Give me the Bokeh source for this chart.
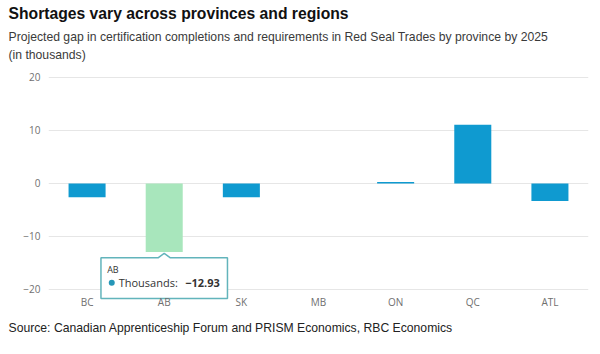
from bokeh.plotting import figure
from bokeh.models import Range1d, FixedTicker, Title
from bokeh.core.properties import value
from bokeh.embed import file_html
from bokeh.resources import INLINE

# ---- data ----
categories = ["BC", "AB", "SK", "MB", "ON", "QC", "ATL"]
gaps = [-2.6, -12.93, -2.6, 0.0, 0.3, 11.1, -3.3]
y_ticks = [-20, -10, 0, 10, 20]
highlight = "AB"
series_name = "Thousands"

title_text = "Shortages vary across provinces and regions"
subtitle_lines = [
    "Projected gap in certification completions and requirements in Red Seal Trades by province by 2025",
    "(in thousands)",
]
source_text = "Source: Canadian Apprenticeship Forum and PRISM Economics, RBC Economics"

# ---- styles ----
BLUE = "#0f9ad0"
GREEN = "#a8e6bc"
TIP_BORDER = "#62b4bb"
TICK_FONT = "Open Sans"
TEXT_FONT = "Liberation Sans"

idx = list(range(len(categories)))
colors = [GREEN if c == highlight else BLUE for c in categories]

p = figure(width=600, height=354, output_backend="svg", toolbar_location=None,
           x_range=Range1d(-0.5, len(categories) - 0.5),
           y_range=Range1d(-22.08, 21.32),
           min_border_left=48, min_border_right=12,
           min_border_top=10, min_border_bottom=54)
p.outline_line_color = None
p.background_fill_color = "white"

p.vbar(x=idx, top=gaps, bottom=0, width=0.48, fill_color=colors, line_color=None)

# axes
p.yaxis.ticker = FixedTicker(ticks=y_ticks)
p.xaxis.ticker = FixedTicker(ticks=idx)
p.xaxis.major_label_overrides = {i: c for i, c in zip(idx, categories)}
for ax in (p.xaxis, p.yaxis):
    ax.axis_line_color = None
    ax.major_tick_line_color = None
    ax.minor_tick_line_color = None
    ax.major_tick_out = 0
    ax.major_tick_in = 0
    ax.major_label_text_font = TICK_FONT
    ax.major_label_text_font_size = "10px"
    ax.major_label_text_color = "#707070"
p.yaxis.major_label_standoff = 8
p.xaxis.major_label_standoff = -6
p.xgrid.grid_line_color = None
p.ygrid.ticker = FixedTicker(ticks=y_ticks)
p.ygrid.grid_line_color = "#e6e6e6"

# tooltip-like callout for the highlighted bar
hi = categories.index(highlight)
hv = gaps[hi]
left, right = hi - 0.82, hi + 0.82
top = hv - 1.1
bottom = -21.7
tip = hv - 0.25
pw = 0.08
p.patch(x=[left, hi - pw, hi, hi + pw, right, right, left],
        y=[top, top, tip, top, top, bottom, bottom],
        fill_color="white", line_color=TIP_BORDER, line_width=1.5)
p.text(x=[left + 0.08], y=[top - 2.26], text=[highlight],
       text_font=value(TICK_FONT), text_font_size="9px", text_color="#333333",
       text_align="left", text_baseline="middle")
p.scatter(x=[left + 0.14], y=[top - 4.7], size=6, marker="circle",
          fill_color="#2596b8", line_color=None)
p.text(x=[left + 0.23], y=[top - 4.7], text=[series_name + ":"],
       text_font=value(TICK_FONT), text_font_size="11px", text_color="#333333",
       text_align="left", text_baseline="middle")
p.text(x=[right - 0.1], y=[top - 4.7], text=[f"{hv:.2f}".replace("-", "\u2212")],
       text_font=value(TICK_FONT), text_font_size="11px", text_color="#333333",
       text_font_style="bold", text_align="right", text_baseline="middle")

# titles (later-added titles go further from the plot)
p.add_layout(Title(text="\n".join(subtitle_lines), align="left", offset=-40,
                   vertical_align="top",
                   text_font=TEXT_FONT, text_font_size="12.2px", text_line_height=1.3,
                   text_color="#3a3a3a", text_font_style="normal", standoff=13), "above")
p.add_layout(Title(text=title_text, align="left", offset=-40,
                   text_font=TEXT_FONT, text_font_size="15.7px",
                   text_color="#111111", text_font_style="bold", standoff=3.5), "above")
p.add_layout(Title(text=source_text, align="left", offset=-40,
                   text_font=TEXT_FONT, text_font_size="12.2px",
                   text_color="#222222", text_font_style="normal", standoff=15), "below")

open("out.html", "w").write(file_html(p, INLINE))
